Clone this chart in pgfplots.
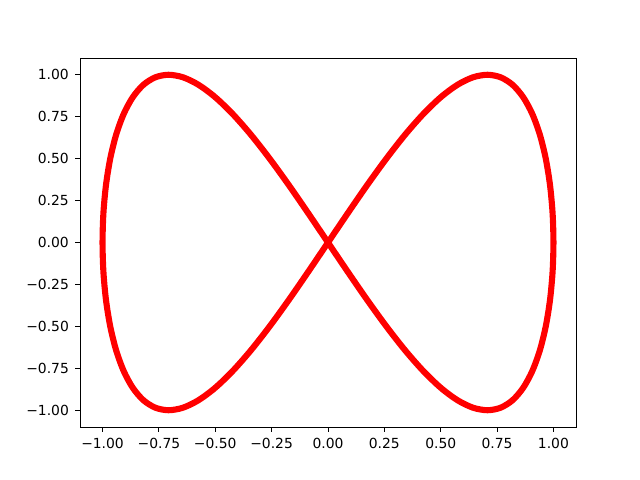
\documentclass[border=0pt]{standalone}
\usepackage{pgfplots}
\pgfplotsset{compat=1.18}
\usepackage{fontspec}
\setmainfont{DejaVu Sans}
\begin{document}
\begin{tikzpicture}
\begin{axis}[
    name=ax,
    scale only axis,
    width=357.12pt,
    height=265.68pt,
    xmin=-1.1, xmax=1.1,
    ymin=-1.1, ymax=1.1,
    axis line style={black, line width=0.6pt},
    tick align=outside,
    major tick length=3.5pt,
    tick style={black, line width=0.6pt},
    xtick pos=bottom, ytick pos=left,
    xtick={-1,-0.75,-0.5,-0.25,0,0.25,0.5,0.75,1},
    ytick={-1,-0.75,-0.5,-0.25,0,0.25,0.5,0.75,1},
    xticklabels={−1.00,−0.75,−0.50,−0.25,0.00,0.25,0.50,0.75,1.00},
    yticklabels={−1.00,−0.75,−0.50,−0.25,0.00,0.25,0.50,0.75,1.00},
    tick label style={font=\fontsize{10pt}{12pt}\selectfont},
    xticklabel style={yshift=-1pt},
    yticklabel style={xshift=-1pt},
]
\addplot[red, line width=4.4pt, line join=round, smooth, mark=none] coordinates {
(0,0)(0.0872,0.1736)(0.1736,0.3420)(0.2588,0.5)(0.3420,0.6428)(0.4226,0.7660)
(0.5,0.8660)(0.5736,0.9397)(0.6428,0.9848)(0.7071,1)(0.7660,0.9848)(0.8192,0.9397)
(0.8660,0.8660)(0.9063,0.7660)(0.9397,0.6428)(0.9659,0.5)(0.9848,0.3420)(0.9962,0.1736)(1,0)
(0.9962,-0.1736)(0.9848,-0.3420)(0.9659,-0.5)(0.9397,-0.6428)(0.9063,-0.7660)(0.8660,-0.8660)
(0.8192,-0.9397)(0.7660,-0.9848)(0.7071,-1)(0.6428,-0.9848)(0.5736,-0.9397)(0.5,-0.8660)
(0.4226,-0.7660)(0.3420,-0.6428)(0.2588,-0.5)(0.1736,-0.3420)(0.0872,-0.1736)(0,0)
(-0.0872,0.1736)(-0.1736,0.3420)(-0.2588,0.5)(-0.3420,0.6428)(-0.4226,0.7660)
(-0.5,0.8660)(-0.5736,0.9397)(-0.6428,0.9848)(-0.7071,1)(-0.7660,0.9848)(-0.8192,0.9397)
(-0.8660,0.8660)(-0.9063,0.7660)(-0.9397,0.6428)(-0.9659,0.5)(-0.9848,0.3420)(-0.9962,0.1736)(-1,0)
(-0.9962,-0.1736)(-0.9848,-0.3420)(-0.9659,-0.5)(-0.9397,-0.6428)(-0.9063,-0.7660)(-0.8660,-0.8660)
(-0.8192,-0.9397)(-0.7660,-0.9848)(-0.7071,-1)(-0.6428,-0.9848)(-0.5736,-0.9397)(-0.5,-0.8660)
(-0.4226,-0.7660)(-0.3420,-0.6428)(-0.2588,-0.5)(-0.1736,-0.3420)(-0.0872,-0.1736)(0,0)
};
\end{axis}
\path ([shift={(-57.6pt,-38.16pt)}]ax.south west) rectangle ([shift={(46.08pt,41.76pt)}]ax.north east);
\end{tikzpicture}
\end{document}
